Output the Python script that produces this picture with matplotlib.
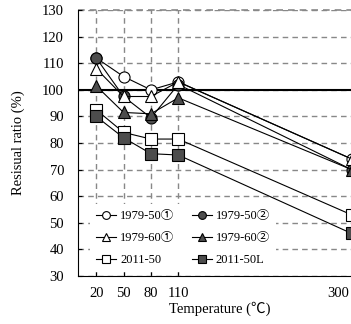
import matplotlib
matplotlib.use("Agg")
import matplotlib.pyplot as plt
import matplotlib.transforms as mtransforms

plt.rcParams['font.family'] = ['Liberation Serif', 'Noto Sans CJK JP', 'DejaVu Sans']

# temperatures (deg C)
temps = [20, 50, 80, 110, 300]

# residual ratio (%) for each specimen
r_1979_50_1 = [112, 105, 100, 103, 74]
r_1979_50_2 = [112, 97.5, 89.5, 102, 70]
r_1979_60_1 = [108, 97.5, 97.5, 103, 74]
r_1979_60_2 = [101.5, 91.5, 91, 97, 70]
r_2011_50 = [92.5, 84, 81.5, 81.5, 53]
r_2011_50L = [90, 82, 76, 75.5, 46]

labels = ['1979-50①', '1979-50②', '1979-60①', '1979-60②', '2011-50', '2011-50L']
yticks = [30, 40, 50, 60, 70, 80, 90, 100, 110, 120, 130]

dark = '#4d4d4d'

fig = plt.figure(figsize=(3.51, 3.24), dpi=100)
ax = fig.add_axes([0.222, 0.148, 0.806, 0.821])

ax.axhline(100, color='black', lw=1.5, zorder=2)

kw = dict(color='black', lw=0.8, markersize=8, markeredgecolor='black',
          markeredgewidth=0.8, zorder=3)
h1, = ax.plot(temps, r_1979_50_1, marker='o', markerfacecolor='white', label=labels[0], **kw)
h2, = ax.plot(temps, r_1979_50_2, marker='o', markerfacecolor=dark, label=labels[1], **kw)
h3, = ax.plot(temps, r_1979_60_1, marker='^', markerfacecolor='white', label=labels[2], **kw)
h4, = ax.plot(temps, r_1979_60_2, marker='^', markerfacecolor=dark, label=labels[3], **kw)
h5, = ax.plot(temps, r_2011_50, marker='s', markerfacecolor='white', label=labels[4], **kw)
h6, = ax.plot(temps, r_2011_50L, marker='s', markerfacecolor=dark, label=labels[5], **kw)

ax.set_xlim(0, 310)
ax.set_ylim(30, 130)
ax.set_xticks(temps)
ax.set_yticks(yticks)
ax.tick_params(direction='in', length=3, labelsize=10.5)
ax.tick_params(axis='y', pad=10)
ax.tick_params(axis='x', pad=8)

# the last x label sits a little left of its tick in the original
shift = mtransforms.ScaledTranslation(-10 / 72, 0, fig.dpi_scale_trans)
lbl = ax.get_xticklabels()[-1]
lbl.set_transform(lbl.get_transform() + shift)

ax.grid(True, color='#888888', ls=(0, (4, 3)), lw=1.0, zorder=1)
ax.spines['top'].set_visible(False)
ax.spines['right'].set_visible(False)
ax.axhline(130, color='#888888', ls=(0, (4, 3)), lw=1.2, zorder=1, clip_on=False)

ax.set_xlabel('Temperature (℃)', fontsize=10.5, labelpad=1)
ax.set_ylabel('Resisual ratio (%)', fontsize=10.5, labelpad=12)

leg = ax.legend(handles=[h1, h3, h5, h2, h4, h6], ncol=2, loc='lower left',
                bbox_to_anchor=(0.03, 0.0), frameon=True, fontsize=9,
                markerscale=0.7, handlelength=1.6, handletextpad=0.3,
                columnspacing=1.4, labelspacing=0.8, borderaxespad=0.3,
                borderpad=0.5)
leg.get_frame().set_edgecolor('white')
leg.get_frame().set_facecolor('white')
leg.get_frame().set_alpha(1.0)
leg.get_frame().set_linewidth(0)
leg.set_zorder(2.5)

fig.savefig('out.png', dpi=100)
